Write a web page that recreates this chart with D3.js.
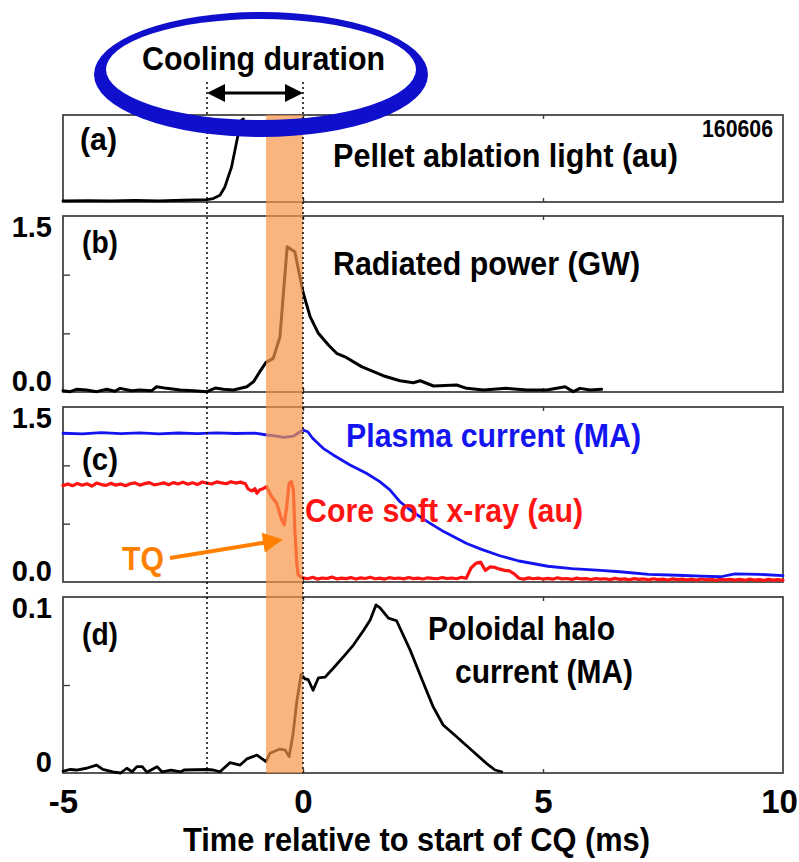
<!DOCTYPE html>
<html><head><meta charset="utf-8">
<script src="https://cdn.jsdelivr.net/npm/d3@7"></script>
<style>
body{margin:0;background:#fff}
svg{display:block}
text{font-family:"Liberation Sans",Arial,sans-serif;font-weight:bold}
</style>
</head><body>
<svg id="chart" width="799" height="862"></svg>
<script>
// ---------------- data ----------------
const timeTicks = [-5, 0, 5, 10];

// (a) pellet ablation light (au, normalised)
const pelletT = [-5,-4.5,-4,-3.5,-3,-2.5,-2.0,-1.87,-1.73,-1.63,-1.56,-1.49,-1.42,-1.35,-1.28,-1.24];
const pelletV = [0.012,0.015,0.012,0.018,0.014,0.02,0.027,0.039,0.077,0.17,0.286,0.40,0.59,0.78,0.94,0.955];

// (b) radiated power (GW)
const pradT = [-5,-4.85,-4.72,-4.51,-4.3,-4.09,-3.92,-3.81,-3.57,-3.4,-3.15,-3.05,-2.84,-2.56,-2.28,-2.0,-1.83,-1.66,-1.45,-1.17,-1.03,-0.9,-0.77,-0.62,-0.48,-0.33,-0.17,0,0.15,0.32,0.53,0.70,0.875,1.22,1.67,2.02,2.30,2.44,2.72,3.20,3.41,3.76,4.24,4.66,5.08,5.46,5.63,5.77,5.98,6.22];
const pradV = [0.011,0.003,0.023,0.017,0.003,0.023,0.006,0.031,0.011,0.017,0.011,0.045,0.031,0.017,0.011,0.003,0.034,0.023,0.017,0.045,0.088,0.173,0.253,0.287,0.471,1.238,1.196,0.85,0.64,0.50,0.40,0.33,0.30,0.216,0.139,0.096,0.079,0.096,0.051,0.06,0.031,0.017,0.031,0.017,0.017,0.045,0.003,0.031,0.017,0.023];

// (c) plasma current (MA)
const ipT = [-5,-4.6,-4.2,-3.8,-3.4,-3.0,-2.6,-2.2,-1.8,-1.4,-1.0,-0.75,-0.55,-0.4,-0.2,0,0.1,0.2,0.42,0.63,0.98,1.32,1.6,1.81,2.02,2.29,2.6,2.94,3.41,3.72,4.1,4.5,5.1,5.6,6.2,6.6,7.2,7.8,8.3,8.7,9.0,9.5,10];
const ipV = [1.275,1.27,1.28,1.272,1.278,1.27,1.277,1.272,1.279,1.273,1.276,1.26,1.25,1.24,1.25,1.303,1.288,1.232,1.146,1.089,1.003,0.932,0.86,0.789,0.688,0.60,0.515,0.43,0.33,0.28,0.225,0.18,0.135,0.115,0.10,0.088,0.066,0.058,0.051,0.045,0.069,0.066,0.054];

// (c) core soft x-ray (au): pre-TQ samples every 0.1 ms from -5 ms
const sxrPreStart = -5, sxrStep = 0.1;
const sxrPreV = [0.826,0.84,0.825,0.845,0.83,0.842,0.822,0.848,0.835,0.828,0.846,0.83,0.84,0.825,0.842,0.85,0.83,0.843,0.852,0.832,0.84,0.85,0.834,0.852,0.84,0.856,0.838,0.85,0.835,0.857,0.848,0.84,0.858,0.85,0.842,0.86,0.848,0.856,0.842];
const sxrTqT = [-1.15,-1.07,-1.0,-0.96,-0.9,-0.83,-0.76,-0.70,-0.65,-0.55,-0.44,-0.39,-0.34,-0.29,-0.24,-0.2,-0.17,-0.13,-0.1,-0.03];
const sxrTqV = [0.80,0.78,0.80,0.76,0.79,0.80,0.817,0.77,0.73,0.675,0.53,0.49,0.645,0.846,0.86,0.79,0.446,0.16,0.06,0.04];
// post-TQ samples every 0.1 ms from 0 ms
const sxrPostStart = 0;
const sxrPostV = [0.035,0.028,0.040,0.025,0.034,0.030,0.042,0.027,0.033,0.029,0.038,
  0.026,0.035,0.030,0.041,0.028,0.033,0.025,0.037,0.030,0.034,
  0.027,0.039,0.029,0.033,0.026,0.036,0.031,0.028,0.038,0.030,
  0.034,0.028,0.040,0.032,0.120,0.160,0.170,0.100,0.130,0.125,
  0.110,0.100,0.095,0.070,0.032,0.025,0.035,0.028,0.033,0.026,
  0.031,0.024,0.036,0.027,0.030,0.022,0.033,0.026,0.029,0.021,
  0.030,0.024,0.028,0.020,0.031,0.023,0.027,0.019,0.029,0.022,
  0.026,0.018,0.028,0.021,0.024,0.017,0.027,0.020,0.025,0.018,
  0.024,0.016,0.026,0.019,0.023,0.015,0.025,0.018,0.022,0.016,
  0.023,0.015,0.024,0.017,0.021,0.014,0.022,0.016,0.020,0.015];

// (d) poloidal halo current (MA)
const haloT = [-5,-4.85,-4.72,-4.51,-4.3,-4.17,-3.96,-3.8,-3.67,-3.56,-3.46,-3.35,-3.25,-3.04,-2.94,-2.75,-2.54,-2.48,-2.0,-1.87,-1.73,-1.52,-1.31,-1.17,-0.96,-0.77,-0.69,-0.48,-0.37,-0.29,-0.21,-0.13,-0.04,0.04,0.11,0.21,0.32,0.46,0.63,0.84,1.05,1.26,1.40,1.52,1.60,1.78,1.95,2.23,2.51,2.71,2.92,3.20,3.55,3.82,4.0,4.14];
const haloV = [0.001,0.002,0.0017,0.0027,0.0045,0.002,0.0007,0.0,0.0027,0.0007,0.0036,0.0036,0.0004,0.0036,0.0007,0.0017,0.0007,0.0017,0.002,0.0017,0.0007,0.0059,0.0045,0.008,0.0102,0.0064,0.0112,0.0136,0.013,0.0093,0.0216,0.0405,0.056,0.0535,0.053,0.047,0.054,0.0545,0.0595,0.066,0.0727,0.081,0.087,0.0955,0.094,0.088,0.0865,0.070,0.051,0.0377,0.0273,0.0206,0.0121,0.0055,0.0017,0.0007];

// markers (ms)
const tqWindow = [-0.77, 0];
const coolingWindow = [-2, 0];

// ---------------- drawing ----------------
const svg = d3.select("#chart");
const x = d3.scaleLinear().domain([-5, 10]).range([63, 783]);

const panels = {
  a: {y: d3.scaleLinear().domain([0, 1]).range([202, 115]), ticks: []},
  b: {y: d3.scaleLinear().domain([0, 1.5]).range([392, 216]), ticks: [0.5, 1.0], labels: ["1.5", "0.0"]},
  c: {y: d3.scaleLinear().domain([0, 1.5]).range([582, 407]), ticks: [0.5, 1.0], labels: ["1.5", "0.0"]},
  d: {y: d3.scaleLinear().domain([0, 0.1]).range([773, 597]), ticks: [0.05], labels: ["0.1", "0"]}
};

const gData = svg.append("g");
const gOver = svg.append("g");

// frames + ticks
Object.entries(panels).forEach(([k, p]) => {
  const [y0, y1] = p.y.range();
  const g = gData.append("g");
  g.append("rect").attr("x", x(-5)).attr("y", y1).attr("width", x(10) - x(-5)).attr("height", y0 - y1)
    .attr("fill", "none").attr("stroke", "#3a3a3a").attr("stroke-width", 1.7);
  g.append("g").attr("transform", `translate(${x(-5)},0)`)
    .call(d3.axisLeft(p.y).tickValues(p.ticks).tickSizeInner(-7).tickSizeOuter(0).tickFormat(""))
    .call(s => s.select(".domain").remove())
    .call(s => s.selectAll("line").attr("stroke", "#3a3a3a").attr("stroke-width", 1.4));
  g.append("g").attr("transform", `translate(0,${y0})`)
    .call(d3.axisBottom(x).tickValues([0, 5]).tickSizeInner(-4).tickSizeOuter(0).tickFormat(""))
    .call(s => s.select(".domain").remove())
    .call(s => s.selectAll("line").attr("stroke", "#3a3a3a").attr("stroke-width", 1.4));
  g.append("g").attr("transform", `translate(0,${y1})`)
    .call(d3.axisTop(x).tickValues([0, 5]).tickSizeInner(-4).tickSizeOuter(0).tickFormat(""))
    .call(s => s.select(".domain").remove())
    .call(s => s.selectAll("line").attr("stroke", "#3a3a3a").attr("stroke-width", 1.4));
  if (p.labels) {
    const dom = p.y.domain();
    g.append("text").attr("x", 52).attr("y", p.y(dom[1]) + 21).attr("text-anchor", "end")
      .attr("font-size", 29).text(p.labels[0]);
    g.append("text").attr("x", 52).attr("y", p.y(dom[0]) - 1).attr("text-anchor", "end")
      .attr("font-size", 29).text(p.labels[1]);
  }
});

function drawLine(T, V, yScale, color, w) {
  const pts = d3.zip(T, V);
  gData.append("path").datum(pts)
    .attr("d", d3.line().x(d => x(d[0])).y(d => yScale(d[1])))
    .attr("fill", "none").attr("stroke", color).attr("stroke-width", w)
    .attr("stroke-linejoin", "round").attr("stroke-linecap", "round");
}

drawLine(pelletT, pelletV, panels.a.y, "#000", 2.8);
drawLine(pradT, pradV, panels.b.y, "#000", 3);

const sxrT = sxrPreV.map((v, i) => sxrPreStart + i * sxrStep)
  .concat(sxrTqT)
  .concat(sxrPostV.map((v, i) => sxrPostStart + i * sxrStep));
const sxrV = sxrPreV.concat(sxrTqV).concat(sxrPostV);
drawLine(sxrT, sxrV, panels.c.y, "#ff1414", 3.2);
drawLine(ipT, ipV, panels.c.y, "#1414f0", 2.8);
drawLine(haloT, haloV, panels.d.y, "#000", 2.8);

// x axis labels (hyphen minus as in the original)
const gx = svg.append("g").attr("transform", `translate(0,${panels.d.y.range()[0]})`)
  .call(d3.axisBottom(x).tickValues(timeTicks).tickSize(0).tickPadding(16).tickFormat(d => String(d)));
gx.select(".domain").remove();
gx.selectAll("text").attr("font-size", 33).attr("fill", "#000")
  .attr("font-family", '"Liberation Sans",Arial,sans-serif').attr("font-weight", "bold")
  .attr("dy", "0.72em")
  .attr("dx", d => d === 10 ? -4 : 0);

// orange TQ band (on top, semi-transparent)
const topY = panels.a.y.range()[1], botY = panels.d.y.range()[0];
gOver.append("rect").attr("x", x(tqWindow[0])).attr("y", topY)
  .attr("width", x(tqWindow[1]) - x(tqWindow[0])).attr("height", botY - topY)
  .attr("fill", "#F79646").attr("opacity", 0.7);

// dotted cooling-window lines
coolingWindow.forEach(t => {
  gOver.append("line").attr("x1", x(t)).attr("x2", x(t)).attr("y1", 82).attr("y2", botY)
    .attr("stroke", "#000").attr("stroke-width", 1.5).attr("stroke-dasharray", "2,3");
});

// double arrow
const ay = 93, ah = 18, aw = 9;
const xa0 = x(coolingWindow[0]), xa1 = x(coolingWindow[1]);
gOver.append("line").attr("x1", xa0 + ah - 2).attr("x2", xa1 - ah + 2).attr("y1", ay).attr("y2", ay)
  .attr("stroke", "#000").attr("stroke-width", 3);
gOver.append("path").attr("d", `M${xa0},${ay}L${xa0 + ah},${ay - aw}L${xa0 + ah},${ay + aw}Z`).attr("fill", "#000");
gOver.append("path").attr("d", `M${xa1},${ay}L${xa1 - ah},${ay - aw}L${xa1 - ah},${ay + aw}Z`).attr("fill", "#000");

// blue ellipse (ring)
function ell(cx, cy, rx, ry) {
  return `M${cx - rx},${cy}a${rx},${ry} 0 1,0 ${2 * rx},0a${rx},${ry} 0 1,0 ${-2 * rx},0Z`;
}
gOver.append("path").attr("d", ell(261, 74.5, 167, 62.5) + ell(261, 69.5, 155, 50.5))
  .attr("fill", "#1010cc").attr("fill-rule", "evenodd");

// texts
function txt(x0, y0, s, size, color, len, anchor) {
  const t = gOver.append("text").attr("x", x0).attr("y", y0).attr("font-size", size)
    .attr("fill", color || "#000").attr("text-anchor", anchor || "start").text(s);
  if (len) t.attr("textLength", len).attr("lengthAdjust", "spacingAndGlyphs");
  return t;
}
txt(142, 70, "Cooling duration", 33, "#000", 243);
txt(80, 150, "(a)", 31, "#000", 37);
txt(82, 253, "(b)", 31, "#000", 36);
txt(82, 470, "(c)", 31, "#000", 36);
txt(82, 645, "(d)", 31, "#000", 36);
txt(702, 137, "160606", 24, "#000", 71);
txt(333, 167, "Pellet ablation light (au)", 33, "#000", 345);
txt(333, 275, "Radiated power (GW)", 33, "#000", 307);
txt(346, 447, "Plasma current (MA)", 33, "#1414f0", 295);
txt(305, 522, "Core soft x-ray (au)", 33, "#ff1414", 278);
txt(122, 570, "TQ", 34, "#ff8000", 42);
txt(428, 640, "Poloidal halo", 33, "#000", 187);
txt(455, 683, "current (MA)", 33, "#000", 178);
txt(183, 851, "Time relative to start of CQ (ms)", 33, "#000", 467);

// TQ arrow
const p0 = [170, 558], p1 = [283, 539.5];
const dx = p1[0] - p0[0], dy = p1[1] - p0[1], L = Math.hypot(dx, dy);
const ux = dx / L, uy = dy / L, nx = -uy, ny = ux;
const hl = 20, hw = 10;
const bx = p1[0] - hl * ux, by = p1[1] - hl * uy;
gOver.append("line").attr("x1", p0[0]).attr("y1", p0[1]).attr("x2", bx + 2 * ux).attr("y2", by + 2 * uy)
  .attr("stroke", "#ff8000").attr("stroke-width", 4);
gOver.append("path").attr("d", `M${p1[0]},${p1[1]}L${bx + hw * nx},${by + hw * ny}L${bx - hw * nx},${by - hw * ny}Z`)
  .attr("fill", "#ff8000");
</script>
</body></html>
